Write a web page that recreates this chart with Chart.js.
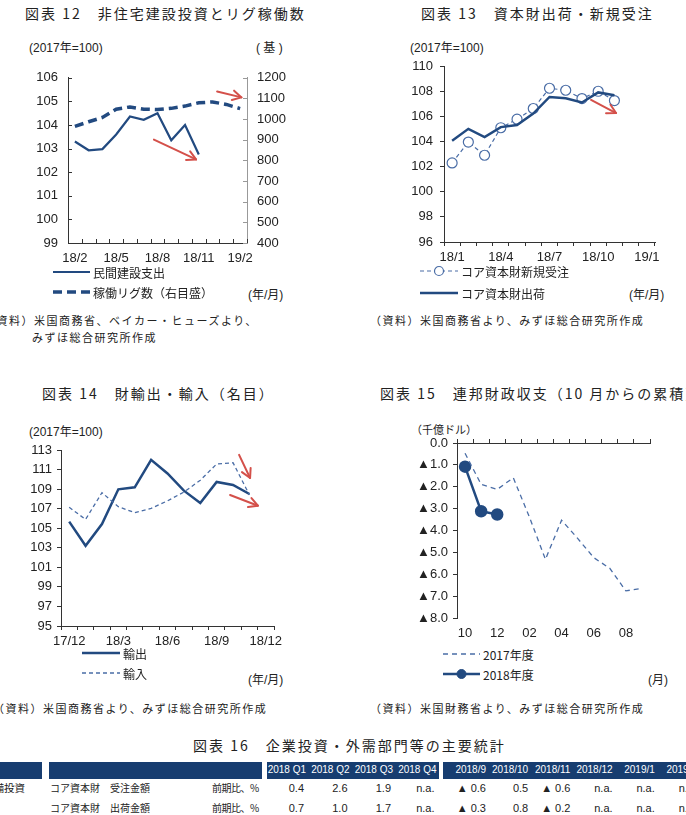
<!DOCTYPE html>
<html><head><meta charset="utf-8">
<script src="https://cdn.jsdelivr.net/npm/chart.js@4.4.0/dist/chart.umd.min.js"></script>
<style>
html,body{margin:0;padding:0;background:#fff;}
body{width:686px;height:815px;overflow:hidden;position:relative;font-family:"Noto Sans CJK JP",sans-serif;color:#222;}
.abs{position:absolute;white-space:nowrap;}
.title{font-size:14px;line-height:18px;letter-spacing:2px;color:#222;}
.unit{font-family:"Liberation Sans",Arial,"Noto Sans CJK JP",sans-serif;font-size:12px;line-height:14px;}
.note{font-size:11px;line-height:14px;letter-spacing:1.5px;}
.leg{font-size:12px;height:16px;display:flex;align-items:center;}
.leg svg{display:block;margin-right:3px;}
canvas{position:absolute;}
.hdr{position:absolute;background:#173d70;height:17px;top:762px;}
.cell{position:absolute;white-space:nowrap;text-align:right;width:60px;line-height:14px;font-family:"Liberation Sans",Arial,sans-serif;font-size:11px;}
.hcell{color:#fff;font-size:10px;}
.tx{position:absolute;white-space:nowrap;font-size:10px;line-height:14px;}
</style>
</head><body>
<div class="abs title" style="left:25px;top:4px;">図表 12　非住宅建設投資とリグ稼働数</div>
<div class="abs title" style="left:421px;top:4px;">図表 13　資本財出荷・新規受注</div>
<div class="abs title" style="left:42px;top:384px;">図表 14　財輸出・輸入（名目）</div>
<div class="abs title" style="left:380px;top:384px;">図表 15　連邦財政収支（10 月からの累積）</div>
<div class="abs title" style="left:193px;top:736px;">図表 16　企業投資・外需部門等の主要統計</div>

<div class="abs unit" style="left:29px;top:41px;">(2017年=100)</div>
<div class="abs unit" style="left:256px;top:41px;">( 基 )</div>
<div class="abs unit" style="left:410px;top:41px;">(2017年=100)</div>
<div class="abs unit" style="left:29px;top:425px;">(2017年=100)</div>
<div class="abs unit" style="left:411px;top:423px;font-size:11px;">（千億ドル）</div>

<div class="abs unit" style="left:248px;top:288px;">(年/月)</div>
<div class="abs unit" style="left:629px;top:288px;">(年/月)</div>
<div class="abs unit" style="left:248px;top:673px;">(年/月)</div>
<div class="abs unit" style="left:648px;top:673px;">(月)</div>

<div class="abs note" style="left:-16px;top:313px;">（資料）米国商務省、ベイカー・ヒューズより、</div>
<div class="abs note" style="left:32px;top:330px;">みずほ総合研究所作成</div>
<div class="abs note" style="left:370px;top:313px;">（資料）米国商務省より、みずほ総合研究所作成</div>
<div class="abs note" style="left:-7px;top:701px;">（資料）米国商務省より、みずほ総合研究所作成</div>
<div class="abs note" style="left:370px;top:701px;">（資料）米国財務省より、みずほ総合研究所作成</div>

<canvas id="c12" width="343" height="215" style="left:0;top:60px;"></canvas>
<canvas id="c13" width="343" height="225" style="left:343px;top:50px;"></canvas>
<canvas id="c14" width="343" height="220" style="left:0;top:435px;"></canvas>
<canvas id="c15" width="343" height="220" style="left:343px;top:425px;"></canvas>

<div id="tbl"></div>

<script>
// ===================== DATA =====================
const c12Labels = ['18/2','18/3','18/4','18/5','18/6','18/7','18/8','18/9','18/10','18/11','18/12','19/1','19/2'];
const c12Construction = [103.3,102.93,102.98,103.6,104.36,104.22,104.5,103.35,104.0,102.75,null,null,null];
const c12Rigs = [965,987,1008,1048,1059,1048,1046,1052,1063,1079,1083,1071,1051];

const c13Labels = ['18/1','18/2','18/3','18/4','18/5','18/6','18/7','18/8','18/9','18/10','18/11','18/12','19/1'];
const c13Orders = [102.29,103.95,102.9,105.09,105.77,106.62,108.23,108.07,107.41,107.99,107.25,null,null];
const c13Shipments = [104.06,105.0,104.35,105.14,105.3,106.22,107.54,107.44,107.1,107.9,107.68,null,null];

const c14Labels = ['17/12','18/1','18/2','18/3','18/4','18/5','18/6','18/7','18/8','18/9','18/10','18/11','18/12'];
const c14Exports = [105.67,103.2,105.43,108.98,109.18,112.0,110.6,108.84,107.58,109.73,109.42,108.5,null];
const c14Imports = [107.14,105.9,108.64,107.2,106.6,107.03,107.8,108.7,109.9,111.57,111.7,108.4,null];

const c15Labels = ['10','11','12','01','02','03','04','05','06','07','08','09'];
const c15FY2017 = [-0.47,-1.89,-2.12,-1.59,-3.38,-5.32,-3.53,-4.36,-5.24,-5.73,-6.76,-6.64];
const c15FY2018 = [-1.08,-3.12,-3.27,null,null,null,null,null,null,null,null,null];

// red arrow annotations (in data units: category index, left-axis value)
const c12ArrowsAnno = [{x0:5.74,y0:103.38,x1:8.8,y1:102.54},{x0:10.33,y0:105.42,x1:12.1,y1:105.17}];
const c13ArrowsAnno = [{x0:8.56,y0:107.3,x1:10.1,y1:106.26}];
const c14ArrowsAnno = [{x0:10.37,y0:112.5,x1:11.04,y1:110.14},{x0:9.82,y0:108.4,x1:11.52,y1:107.3}];

// table
const tblQuarterHeads = ['2018 Q1','2018 Q2','2018 Q3','2018 Q4'];
const tblMonthHeads = ['2018/9','2018/10','2018/11','2018/12','2019/1','2019/2'];
const tblCategories = ['設備投資',''];
const tblItems = ['コア資本財　受注金額','コア資本財　出荷金額'];
const tblUnits = ['前期比、%','前期比、%'];
const tblQuarterVals = [['0.4','2.6','1.9','n.a.'],['0.7','1.0','1.7','n.a.']];
const tblMonthVals = [['▲ 0.6','0.5','▲ 0.6','n.a.','n.a.','n.a.'],['▲ 0.3','0.8','▲ 0.2','n.a.','n.a.','n.a.']];

// ===================== STYLE =====================
const NAVY = '#224a80';
const LIGHT = '#4a6da6';
const RED = '#d4504a';
const AX = '#333';
Chart.defaults.font.family = '"Liberation Sans", Arial, "Noto Sans CJK JP", sans-serif';
Chart.defaults.font.size = 13;
Chart.defaults.color = '#222';

const arrowPlugin = {
  id: 'arrows',
  afterDatasetsDraw(chart, args, opts) {
    const items = opts.items || [];
    const ctx = chart.ctx;
    const xs = chart.scales.x, ys = chart.scales.y;
    ctx.save();
    ctx.strokeStyle = RED; ctx.lineWidth = 2; ctx.lineCap = 'round'; ctx.lineJoin = 'round';
    items.forEach(a => {
      const x0 = xs.getPixelForValue(a.x0), y0 = ys.getPixelForValue(a.y0);
      const x1 = xs.getPixelForValue(a.x1), y1 = ys.getPixelForValue(a.y1);
      const ang = Math.atan2(y1 - y0, x1 - x0), L = 10, s = 0.5;
      ctx.beginPath(); ctx.moveTo(x0, y0); ctx.lineTo(x1, y1); ctx.stroke();
      ctx.beginPath();
      ctx.moveTo(x1 - L * Math.cos(ang - s), y1 - L * Math.sin(ang - s));
      ctx.lineTo(x1, y1);
      ctx.lineTo(x1 - L * Math.cos(ang + s), y1 - L * Math.sin(ang + s));
      ctx.stroke();
    });
    ctx.restore();
  }
};

// inward tick marks along every axis of a chart (chart 12 style)
const innerTicksPlugin = {
  id: 'innerTicks',
  afterDraw(chart, args, opts) {
    if (!opts.len) return;
    const ctx = chart.ctx, L = opts.len;
    ctx.save(); ctx.lineWidth = 1;
    Object.values(chart.scales).forEach(s => {
      ctx.strokeStyle = s.options.border.color;
      ctx.beginPath();
      if (s.isHorizontal()) {
        const n = s.ticks.length;
        for (let i = 0; i <= n; i++) {
          const x = Math.round(s.getPixelForValue(i - 0.5)) + 0.5;
          ctx.moveTo(x, s.top); ctx.lineTo(x, s.top - L);
        }
      } else {
        const left = s.position === 'left';
        const x = left ? s.right : s.left;
        s.ticks.forEach(t => {
          const y = Math.round(s.getPixelForValue(t.value)) + 0.5;
          ctx.moveTo(x, y); ctx.lineTo(x + (left ? L : -L), y);
        });
      }
      ctx.stroke();
    });
    ctx.restore();
  }
};

function fixW(w){ return s => { s.width = w; }; }
function fixH(h){ return s => { s.height = h; }; }
function everyN(n, labels){ return (v, i) => (i % n === 0 ? labels[i] : ''); }
const baseOpts = { responsive:false, animation:false, devicePixelRatio:1 };

function xCat(labels, n, drawTicks, pad, h) {
  return { type:'category', offset:true, afterFit: fixH(h),
    grid:{ display:true, offset:true, drawOnChartArea:false, drawTicks:drawTicks, tickLength:4, color:AX },
    border:{ display:true, color:AX, width:1 },
    ticks:{ autoSkip:false, maxRotation:0, padding:pad, callback: everyN(n, labels) } };
}

// ---------- Chart 12 ----------
const ds12a = { label:'民間建設支出', data:c12Construction, borderColor:NAVY, borderWidth:2.2, pointRadius:0, tension:0, yAxisID:'y' };
const ds12b = { label:'稼働リグ数（右目盛）', data:c12Rigs, borderColor:NAVY, borderWidth:3.5, borderDash:[9,5], pointRadius:0, tension:0, yAxisID:'y1' };
new Chart(document.getElementById('c12'), {
  type:'line',
  data:{ labels:c12Labels, datasets:[ds12a, ds12b] },
  options:{ ...baseOpts,
    layout:{ padding:{ left:0, right:48, top:15, bottom:7 } },
    plugins:{ legend:{display:false}, tooltip:{enabled:false}, arrows:{ items:c12ArrowsAnno }, innerTicks:{ len:4 } },
    scales:{
      x: xCat(c12Labels, 3, false, 8, 25),
      y: { position:'left', min:99, max:106, afterFit: fixW(68),
        ticks:{ stepSize:1, padding:10 },
        grid:{ drawOnChartArea:false, drawTicks:false, color:AX }, border:{ color:AX } },
      y1:{ position:'right', min:400, max:1200, afterFit: fixW(48),
        ticks:{ stepSize:100, padding:10, callback: v => String(v) },
        grid:{ drawOnChartArea:false, drawTicks:false, color:'#999' }, border:{ color:'#999' } }
    }
  },
  plugins:[arrowPlugin, innerTicksPlugin]
});

// ---------- Chart 13 ----------
const ds13a = { label:'コア資本財新規受注', data:c13Orders, borderColor:LIGHT, borderWidth:1.2, borderDash:[4,3],
  pointRadius:5, pointBackgroundColor:'#fff', pointBorderColor:LIGHT, pointBorderWidth:1.2, tension:0 };
const ds13b = { label:'コア資本財出荷', data:c13Shipments, borderColor:NAVY, borderWidth:2.5, pointRadius:0, tension:0 };
new Chart(document.getElementById('c13'), {
  type:'line',
  data:{ labels:c13Labels, datasets:[ds13b, ds13a] },
  options:{ ...baseOpts,
    layout:{ padding:{ left:0, right:31, top:16, bottom:8 } },
    plugins:{ legend:{display:false}, tooltip:{enabled:false}, arrows:{ items:c13ArrowsAnno } },
    scales:{
      x: xCat(c13Labels, 3, true, 4, 25),
      y: { min:96, max:110, afterFit: fixW(101), ticks:{ stepSize:2, padding:7 },
        grid:{ drawOnChartArea:false, tickLength:4, color:AX }, border:{ color:AX } }
    }
  },
  plugins:[arrowPlugin]
});

// ---------- Chart 14 ----------
const ds14a = { label:'輸出', data:c14Exports, borderColor:NAVY, borderWidth:2.5, pointRadius:0, tension:0 };
const ds14b = { label:'輸入', data:c14Imports, borderColor:LIGHT, borderWidth:1.3, borderDash:[4,3], pointRadius:0, tension:0 };
new Chart(document.getElementById('c14'), {
  type:'line',
  data:{ labels:c14Labels, datasets:[ds14b, ds14a] },
  options:{ ...baseOpts,
    layout:{ padding:{ left:0, right:69, top:15, bottom:4 } },
    plugins:{ legend:{display:false}, tooltip:{enabled:false}, arrows:{ items:c14ArrowsAnno } },
    scales:{
      x: xCat(c14Labels, 3, true, 4, 25),
      y: { min:95, max:113, afterFit: fixW(61), ticks:{ stepSize:2, padding:5 },
        grid:{ drawOnChartArea:false, tickLength:4, color:AX }, border:{ color:AX } }
    }
  },
  plugins:[arrowPlugin]
});

// ---------- Chart 15 ----------
const ds15a = { label:'2017年度', data:c15FY2017, borderColor:LIGHT, borderWidth:1.3, borderDash:[5,4], pointRadius:0, tension:0 };
const ds15b = { label:'2018年度', data:c15FY2018, borderColor:NAVY, borderWidth:2.5, pointRadius:5,
  pointBackgroundColor:NAVY, pointBorderColor:NAVY, tension:0 };
new Chart(document.getElementById('c15'), {
  type:'line',
  data:{ labels:c15Labels, datasets:[ds15a, ds15b] },
  options:{ ...baseOpts,
    layout:{ padding:{ left:0, right:36, top:18, bottom:2 } },
    plugins:{ legend:{display:false}, tooltip:{enabled:false} },
    scales:{
      x: { type:'category', offset:true, position:'bottom', afterFit: fixH(25),
        grid:{ display:false, drawTicks:false }, border:{ display:false },
        ticks:{ autoSkip:false, maxRotation:0, padding:8, callback: everyN(2, c15Labels) } },
      x2:{ type:'category', offset:true, position:'top', afterFit: fixH(0),
        grid:{ display:true, offset:true, drawOnChartArea:false, drawTicks:true, tickLength:4, color:AX },
        border:{ display:true, color:AX }, ticks:{ display:false } },
      y: { min:-8, max:0, afterFit: fixW(114),
        ticks:{ stepSize:1, padding:5, font:{ size:13 },
          callback: v => v === 0 ? '0.0' : '▲' + Math.abs(v).toFixed(1) },
        grid:{ drawOnChartArea:false, tickLength:4, color:AX }, border:{ color:AX } }
    }
  }
});

// ---------- Legends (HTML, mirroring dataset styles) ----------
function legend(left, cys, w, dsList) {
  dsList.forEach((ds, i) => {
    const d = document.createElement('div');
    d.className = 'abs leg';
    d.style.left = left + 'px';
    d.style.top = (cys[i] - 8) + 'px';
    const dash = ds.borderDash ? `stroke-dasharray="${ds.borderDash.join(',')}"` : '';
    let pt = '';
    if (ds.pointRadius) {
      pt = `<circle cx="${w/2}" cy="6" r="${Math.min(ds.pointRadius,4.5)}" fill="${ds.pointBackgroundColor}" stroke="${ds.pointBorderColor}" stroke-width="${ds.pointBorderWidth||1}"/>`;
    }
    d.innerHTML = `<svg width="${w}" height="12"><line x1="0" y1="6" x2="${w}" y2="6" stroke="${ds.borderColor}" stroke-width="${ds.borderWidth}" ${dash}/>${pt}</svg><span>${ds.label}</span>`;
    document.body.appendChild(d);
  });
}
legend(53, [272, 292], 37, [ds12a, ds12b]);
legend(420, [271, 293], 38, [ds13a, ds13b]);
legend(82, [653, 673], 38, [ds14a, ds14b]);
legend(443, [654, 674], 37, [ds15a, ds15b]);

// ---------- Table ----------
(function(){
  const t = document.getElementById('tbl');
  const add = (html) => { t.insertAdjacentHTML('beforeend', html); };
  add('<div class="hdr" style="left:0;width:42px;"></div>');
  add('<div class="hdr" style="left:49px;width:213px;"></div>');
  add('<div class="hdr" style="left:267px;width:172px;"></div>');
  add('<div class="hdr" style="left:443px;width:260px;"></div>');
  const qRight = i => 306 + i * 43.5;
  const mRight = i => 486 + i * 42.2;
  tblQuarterHeads.forEach((h,i) => add(`<div class="cell hcell" style="left:${qRight(i)-60}px;top:763px;">${h}</div>`));
  tblMonthHeads.forEach((h,i) => add(`<div class="cell hcell" style="left:${mRight(i)-60}px;top:763px;">${h}</div>`));
  const rowY = [781, 801];
  tblItems.forEach((it, r) => {
    const y = rowY[r];
    if (tblCategories[r]) add(`<div class="tx" style="left:-17px;top:${y}px;font-size:10.5px;">${tblCategories[r]}</div>`);
    add(`<div class="tx" style="left:50px;top:${y}px;">${it}</div>`);
    add(`<div class="tx" style="left:212px;top:${y}px;letter-spacing:-0.5px;">${tblUnits[r]}</div>`);
    tblQuarterVals[r].forEach((v,i) => add(`<div class="cell" style="left:${qRight(i)-62}px;top:${y}px;">${v}</div>`));
    tblMonthVals[r].forEach((v,i) => add(`<div class="cell" style="left:${mRight(i)-60}px;top:${y}px;">${v}</div>`));
  });
})();
</script>
</body></html>
